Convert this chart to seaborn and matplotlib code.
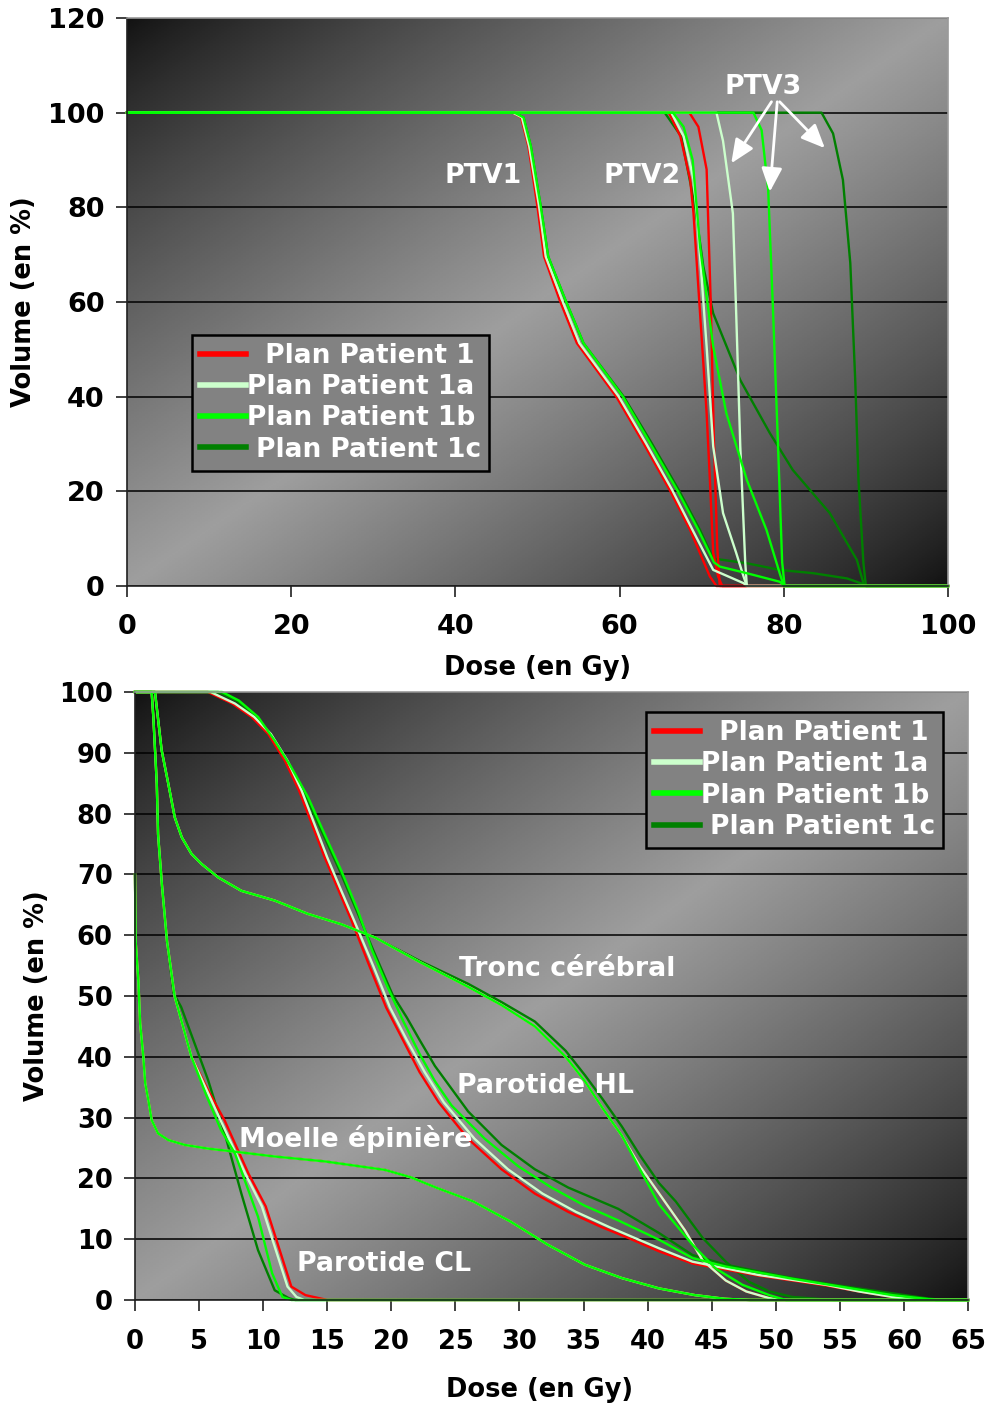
import numpy as np
import pandas as pd
import matplotlib
matplotlib.use("Agg")
import matplotlib.pyplot as plt
import seaborn as sns
from matplotlib.lines import Line2D

plt.rcParams['font.family'] = ['DejaVu Sans']
plt.rcParams['font.weight'] = 'bold'

# ---------------- data ----------------
plan_names = ["Plan Patient 1", "Plan Patient 1a", "Plan Patient 1b", "Plan Patient 1c"]
legend_labels = ["  Plan Patient 1", "Plan Patient 1a", "Plan Patient 1b", " Plan Patient 1c"]
plan_colors = ["#FF0000", "#CCFFCC", "#00FF00", "#008000"]

top_xticks = [0, 20, 40, 60, 80, 100]
top_yticks = [0, 20, 40, 60, 80, 100, 120]
bot_xticks = [0, 5, 10, 15, 20, 25, 30, 35, 40, 45, 50, 55, 60, 65]
bot_yticks = [0, 10, 20, 30, 40, 50, 60, 70, 80, 90, 100]

# --- top chart: PTV1 ---
ptv1_p1_dose = [0, 47.0, 48.0, 48.9, 50.0, 50.8, 52.7, 54.8, 59.6, 62.9, 66.1, 68.6, 71.0, 71.8, 100]
ptv1_p1_vol = [100, 100, 99, 92.8, 80.1, 69.6, 60.4, 51.3, 40.0, 30.2, 20.3, 11.8, 2.0, 0, 0]
ptv1_p1a_dose = [0, 47.0, 48.1, 49.0, 50.2, 51.0, 53.0, 55.1, 59.9, 63.2, 66.4, 68.9, 71.4, 75.1, 75.5, 100]
ptv1_p1a_vol = [100, 100, 99, 92.8, 80.1, 69.6, 60.4, 51.3, 40.0, 30.2, 20.3, 11.8, 3.4, 0.6, 0, 0]
ptv1_p1b_dose = [0, 47.2, 48.3, 49.2, 50.4, 51.3, 53.4, 55.6, 60.4, 63.7, 67.0, 69.6, 71.5, 72.2, 75.5, 79.5, 80.1, 100]
ptv1_p1b_vol = [100, 100, 99, 92.8, 80.1, 69.6, 60.4, 51.3, 40.0, 30.2, 20.3, 11.8, 5.0, 4.1, 2.7, 0.9, 0, 0]
ptv1_p1c_dose = [0, 47.2, 48.3, 49.2, 50.4, 51.3, 53.4, 55.6, 60.5, 63.9, 67.2, 69.8, 71.4, 75.5, 79.5, 83.6, 87.7, 89.5, 90.0, 100]
ptv1_p1c_vol = [100, 100, 99, 92.8, 80.1, 69.6, 60.4, 51.3, 40.0, 30.2, 20.3, 11.8, 5.8, 4.8, 3.4, 2.7, 1.6, 0.5, 0, 0]

# --- top chart: PTV2 ---
ptv2_p1_dose = [0, 66.0, 67.4, 68.6, 69.0, 69.8, 70.6, 71.0, 71.4, 72.0, 72.5, 100]
ptv2_p1_vol = [100, 100, 95, 85.8, 78.8, 57.6, 36.5, 22.4, 7, 2, 0, 0]
ptv2_p1a_dose = [0, 66.3, 67.8, 69.0, 69.4, 70.0, 70.6, 71.4, 72.6, 74.2, 75.1, 75.5, 100]
ptv2_p1a_vol = [100, 100, 95, 86, 78.7, 65, 50.6, 29.5, 15.4, 7, 2, 0, 0]
ptv2_p1b_dose = [0, 66.5, 67.8, 68.9, 69.8, 71.4, 73.0, 75.5, 77.9, 79.5, 80.0, 100]
ptv2_p1b_vol = [100, 100, 97, 90, 71.7, 50.6, 36.5, 22.4, 11.8, 2.7, 0, 0]
ptv2_p1c_dose = [0, 65.5, 67.5, 69.2, 70.2, 71.4, 74.7, 78.3, 81.1, 85.6, 88.9, 89.7, 90.0, 100]
ptv2_p1c_vol = [100, 100, 95, 80, 67.5, 57.6, 43.5, 32.3, 24.5, 15.4, 5.5, 0.6, 0, 0]

# --- top chart: PTV3 ---
ptv3_p1_dose = [0, 68.5, 69.6, 70.6, 71.1, 71.5, 71.9, 72.2, 100]
ptv3_p1_vol = [100, 100, 97, 88, 60, 30, 8, 0, 0]
ptv3_p1a_dose = [0, 71.8, 72.6, 73.8, 74.2, 74.7, 75.3, 75.5, 100]
ptv3_p1a_vol = [100, 100, 94, 78.7, 57.6, 29.5, 5, 0, 0]
ptv3_p1b_dose = [0, 76.3, 77.3, 78.1, 78.7, 79.3, 79.8, 80.1, 100]
ptv3_p1b_vol = [100, 100, 96.3, 83.7, 57.6, 29.5, 5, 0, 0]
ptv3_p1c_dose = [0, 84.6, 86.0, 87.2, 88.1, 88.7, 89.1, 89.7, 90.0, 100]
ptv3_p1c_vol = [100, 100, 95.6, 85.8, 68.2, 43.5, 22.4, 4.8, 0, 0]

# --- bottom chart: Tronc cérébral ---
tronc_dose = [0, 1.2, 1.56, 2.08, 2.6, 3.1, 3.65, 4.4, 5.2, 6.5, 8.3, 10.9, 13.5, 16.1, 18.75, 22.2, 26.0,
              28.6, 31.2, 33.6, 35.1, 36.5, 38.0, 39.4, 40.9, 42.9, 44.3, 46.1, 47.7, 49.5, 50.3, 65]
tronc_vol = [100, 100, 100, 90.4, 84.9, 79.4, 76.1, 73.4, 71.7, 69.5, 67.3, 65.7, 63.5, 61.8, 59.6, 55.6, 51.5,
             48.5, 45.0, 40.0, 36.0, 31.5, 27.0, 22.0, 17.5, 11.5, 6.5, 3.2, 1.4, 0.3, 0, 0]
tronc_p1b_dose = [0, 1.2, 1.56, 2.08, 2.6, 3.1, 3.65, 4.4, 5.2, 6.5, 8.3, 10.9, 13.5, 16.1, 18.75, 22.2, 26.0,
                  28.6, 31.2, 33.6, 35.1, 36.5, 38.0, 39.4, 40.9, 43.5, 45.3, 47.4, 49.5, 50.8, 65]
tronc_p1b_vol = [100, 100, 100, 90.4, 84.9, 79.4, 76.1, 73.4, 71.7, 69.5, 67.3, 65.7, 63.5, 61.8, 59.6, 55.6, 51.5,
                 48.5, 45.0, 40.0, 36.0, 31.5, 27.0, 21.5, 15.7, 9.1, 5.2, 2.5, 0.8, 0, 0]
tronc_p1c_dose = [0, 1.2, 1.56, 2.08, 2.6, 3.1, 3.65, 4.4, 5.2, 6.5, 8.3, 10.9, 13.5, 16.1, 18.75, 22.2, 26.0,
                  28.6, 31.2, 33.6, 35.1, 36.5, 38.0, 39.4, 40.9, 42.2, 44.3, 46.1, 47.9, 49.5, 51.3, 54.5, 65]
tronc_p1c_vol = [100, 100, 100, 90.4, 84.9, 79.4, 76.1, 73.4, 71.7, 69.5, 67.3, 65.7, 63.5, 61.8, 59.6, 55.8, 52.0,
                 49.0, 45.8, 41.0, 37.0, 33.0, 28.5, 23.8, 19.2, 16.2, 10.2, 6.3, 3.0, 1.4, 0.5, 0, 0]

# --- bottom chart: Parotide HL ---
hl_p1_dose = [0, 5.7, 7.6, 9.1, 10.4, 11.7, 12.8, 13.8, 14.8, 15.9, 16.9, 18.3, 19.6, 20.9, 22.2, 23.7, 26.0,
              28.6, 31.2, 33.8, 36.4, 38.5, 40.9, 43.5, 46.1, 48.7, 51.3, 53.9, 56.5, 59.1, 61.0, 65]
hl_p1_vol = [100, 100, 98.1, 95.9, 93.1, 88.7, 83.8, 78.3, 72.8, 67.3, 62.4, 54.9, 48.1, 42.8, 37.5, 32.5, 26.5,
             21.5, 17.5, 14.5, 12.0, 10.2, 8.0, 6.0, 5.0, 4.0, 3.2, 2.4, 1.4, 0.5, 0, 0]
hl_p1a_dose = [0, 5.9, 7.8, 9.3, 10.6, 11.9, 13.0, 14.0, 15.0, 16.1, 17.1, 18.6, 19.9, 21.2, 22.6, 24.1, 26.5,
               29.1, 31.8, 34.4, 37.0, 39.0, 40.9, 43.5, 46.1, 48.7, 51.3, 53.9, 56.5, 59.1, 61.0, 65]
hl_p1a_vol = [100, 100, 98.1, 95.9, 93.1, 88.7, 83.8, 78.3, 72.8, 67.3, 62.4, 54.9, 48.1, 42.8, 37.5, 32.5, 26.5,
              21.5, 17.5, 14.5, 12.0, 10.2, 8.5, 6.3, 5.2, 4.1, 3.3, 2.5, 1.4, 0.5, 0, 0]
hl_p1b_dose = [0, 6.8, 8.1, 9.6, 10.9, 12.2, 13.5, 14.8, 16.1, 17.4, 18.5, 19.6, 20.9, 22.2, 23.4, 24.7, 27.3,
               29.9, 32.5, 35.1, 37.7, 40.9, 43.5, 46.1, 48.7, 51.3, 53.9, 56.5, 59.1, 62.5, 65]
hl_p1b_vol = [100, 100, 98.6, 95.9, 92.0, 87.6, 82.7, 76.6, 70.6, 64.0, 57.5, 52.0, 46.0, 40.5, 36.0, 32.0, 26.5,
              22.0, 18.5, 15.5, 13.1, 9.9, 6.9, 5.5, 4.5, 3.5, 2.6, 1.7, 0.8, 0, 0]
hl_p1c_dose = [0, 6.5, 8.0, 9.5, 10.8, 12.1, 13.4, 14.7, 16.0, 17.3, 18.6, 20.1, 21.2, 22.2, 23.4, 26.0, 28.6,
               31.2, 33.8, 37.7, 40.9, 43.5, 46.1, 48.7, 51.3, 53.9, 56.5, 59.1, 61.7, 63.0, 65]
hl_p1c_vol = [100, 100, 98.5, 95.8, 92.0, 87.5, 82.5, 76.5, 70.5, 64.0, 57.5, 50.2, 46.5, 42.8, 38.5, 31.0, 25.5,
              21.5, 18.5, 15.0, 11.0, 7.4, 5.8, 4.7, 3.6, 2.7, 1.9, 1.1, 0.3, 0, 0]

# --- bottom chart: Moelle épinière ---
moelle_dose = [0, 0.05, 0.13, 0.26, 0.4, 0.65, 0.8, 1.04, 1.3, 1.8, 2.6, 3.9, 5.7, 7.8, 10.9, 14.8, 19.5,
               21.5, 23.6, 26.4, 29.3, 32.2, 35.1, 38.0, 40.9, 43.7, 46.0, 48.0, 65]
moelle_vol = [70, 59, 56.5, 52.6, 45.5, 40.0, 35.6, 32.9, 29.6, 27.4, 26.3, 25.5, 24.9, 24.4, 23.6, 22.8, 21.4,
              20.2, 18.4, 16.2, 12.9, 9.1, 5.8, 3.6, 1.9, 0.8, 0.2, 0, 0]

# --- bottom chart: Parotide CL ---
cl_p1_dose = [0, 1.3, 1.43, 1.7, 1.8, 2.1, 2.5, 3.1, 4.4, 5.7, 7.0, 8.85, 10.2, 11.2, 12.2, 13.3, 14.8, 15.0, 65]
cl_p1_vol = [100, 100, 95.9, 84.9, 76.6, 68.3, 59.0, 49.9, 40.0, 34.5, 29.5, 20.8, 15.4, 8.8, 2.2, 0.8, 0.1, 0, 0]
cl_p1a_dose = [0, 1.3, 1.43, 1.7, 1.8, 2.1, 2.5, 3.1, 4.4, 5.6, 6.8, 8.6, 9.9, 10.9, 11.9, 12.6, 13.2, 65]
cl_p1a_vol = [100, 100, 95.9, 84.9, 76.6, 68.3, 59.0, 49.9, 40.0, 34.5, 29.0, 20.8, 15.4, 8.8, 2.2, 0.5, 0, 0]
cl_p1b_dose = [0, 1.3, 1.43, 1.7, 1.8, 2.1, 2.5, 3.1, 4.4, 5.5, 6.7, 7.8, 9.6, 10.7, 11.5, 12.2, 65]
cl_p1b_vol = [100, 100, 95.9, 84.9, 76.6, 68.3, 59.0, 49.9, 40.0, 34.0, 28.0, 24.1, 13.7, 4.4, 0.5, 0, 0]
cl_p1c_dose = [0, 1.3, 1.43, 1.7, 1.8, 2.1, 2.5, 3.0, 3.6, 5.7, 7.0, 8.3, 9.6, 10.9, 12.0, 12.5, 65]
cl_p1c_vol = [100, 100, 95.9, 84.9, 76.6, 68.3, 59.0, 50.5, 48.2, 36.2, 27.4, 17.5, 8.2, 1.6, 0.3, 0, 0]

top_curves = {
    0: [(ptv1_p1_dose, ptv1_p1_vol), (ptv2_p1_dose, ptv2_p1_vol), (ptv3_p1_dose, ptv3_p1_vol)],
    1: [(ptv1_p1a_dose, ptv1_p1a_vol), (ptv2_p1a_dose, ptv2_p1a_vol), (ptv3_p1a_dose, ptv3_p1a_vol)],
    2: [(ptv1_p1b_dose, ptv1_p1b_vol), (ptv2_p1b_dose, ptv2_p1b_vol), (ptv3_p1b_dose, ptv3_p1b_vol)],
    3: [(ptv1_p1c_dose, ptv1_p1c_vol), (ptv2_p1c_dose, ptv2_p1c_vol), (ptv3_p1c_dose, ptv3_p1c_vol)],
}
bot_curves = {
    0: [(tronc_dose, tronc_vol), (hl_p1_dose, hl_p1_vol), (moelle_dose, moelle_vol), (cl_p1_dose, cl_p1_vol)],
    1: [(tronc_dose, tronc_vol), (hl_p1a_dose, hl_p1a_vol), (moelle_dose, moelle_vol), (cl_p1a_dose, cl_p1a_vol)],
    2: [(tronc_p1b_dose, tronc_p1b_vol), (hl_p1b_dose, hl_p1b_vol), (moelle_dose, moelle_vol), (cl_p1b_dose, cl_p1b_vol)],
    3: [(tronc_p1c_dose, tronc_p1c_vol), (hl_p1c_dose, hl_p1c_vol), (moelle_dose, moelle_vol), (cl_p1c_dose, cl_p1c_vol)],
}
draw_order = [3, 0, 1, 2]

# ---------------- figure ----------------
fig = plt.figure(figsize=(9.89, 14.10), dpi=100)
ax1 = fig.add_axes([127 / 989, 1 - 586 / 1410, (948 - 127) / 989, (586 - 18) / 1410])
ax2 = fig.add_axes([135 / 989, 1 - 1300 / 1410, (968 - 135) / 989, (1300 - 692) / 1410])

# diagonal gradient background (style only)
n = 300
ii, jj = np.meshgrid(np.linspace(0, 1, n), np.linspace(0, 1, n))
t = (ii + jj) / 2.0
grad = 0.07 + (0.62 - 0.07) * (1 - np.abs(2 * t - 1)) ** 0.85

TICK_FS = 19.5
LAB_FS = 18.5
TXT_FS = 19.3
LEG_FS = 19


def style_axes(ax, xlim, ylim, xticks, yticks, tick_fs, xpad):
    ax.imshow(grad, cmap='gray', vmin=0, vmax=1, extent=[0, 1, 0, 1], transform=ax.transAxes,
              aspect='auto', zorder=-10, interpolation='bilinear')
    ax.set_xlim(*xlim)
    ax.set_ylim(*ylim)
    ax.set_xticks(xticks)
    ax.set_yticks(yticks)
    ax.yaxis.grid(True, color='black', lw=1.1)
    ax.xaxis.grid(False)
    ax.set_axisbelow(True)
    for s in ['top', 'right']:
        ax.spines[s].set_color('#9a9a9a')
        ax.spines[s].set_linewidth(1.2)
    for s in ['left', 'bottom']:
        ax.spines[s].set_color('#202020')
        ax.spines[s].set_linewidth(1.2)
    ax.tick_params(axis='both', direction='out', length=8, width=1.2, color='#202020',
                   labelsize=tick_fs)
    ax.tick_params(axis='x', pad=xpad)
    ax.tick_params(axis='y', pad=8)
    for lab in ax.get_xticklabels() + ax.get_yticklabels():
        lab.set_fontweight('bold')


def draw_curve(ax, dose, vol, color):
    df = pd.DataFrame({"dose": dose, "vol": vol})
    sns.lineplot(data=df, x="dose", y="vol", color=color, lw=1.7, sort=False,
                 estimator=None, ax=ax, clip_on=False)


for p in draw_order:
    for d, v in top_curves[p]:
        draw_curve(ax1, d, v, plan_colors[p])
for p in draw_order:
    for d, v in bot_curves[p]:
        draw_curve(ax2, d, v, plan_colors[p])

style_axes(ax1, (0, 100), (0, 120), top_xticks, top_yticks, TICK_FS, 12)
style_axes(ax2, (0, 65), (0, 100), bot_xticks, bot_yticks, 18.5, 13)

# axis labels
ax1.set_xlabel("Dose (en Gy)", fontsize=LAB_FS, fontweight='bold')
ax1.set_ylabel("Volume (en %)", fontsize=LAB_FS, fontweight='bold')
ax1.xaxis.set_label_coords(0.5, -0.144)
ax1.xaxis.label.set_va('center')
ax1.yaxis.set_label_coords(-0.1255, 0.5)
ax1.yaxis.label.set_va('center')
ax2.set_xlabel("Dose (en Gy)", fontsize=LAB_FS, fontweight='bold')
ax2.set_ylabel("Volume (en %)", fontsize=LAB_FS, fontweight='bold')
ax2.xaxis.set_label_coords(0.486, -0.148)
ax2.xaxis.label.set_va('center')
ax2.yaxis.set_label_coords(-0.1176, 0.5)
ax2.yaxis.label.set_va('center')

# annotations top
txt_kw = dict(color='white', fontsize=TXT_FS, fontweight='bold', ha='center', va='center')
ax1.text(43.4, 86.6, "PTV1", **txt_kw)
ax1.text(62.7, 86.6, "PTV2", **txt_kw)
ax1.text(77.5, 105.4, "PTV3", **txt_kw)
arrow_kw = dict(arrowstyle='-|>,head_length=0.8,head_width=0.35', color='white', lw=2,
                mutation_scale=18, shrinkA=0, shrinkB=0)
for (tx, ty), (hx, hy) in [((78.5, 102.3), (73.6, 89.3)), ((79.2, 102.3), (78.3, 83.3)),
                           ((79.5, 102.3), (85.0, 92.5))]:
    ax1.annotate("", xy=(hx, hy), xytext=(tx, ty), arrowprops=arrow_kw)

# annotations bottom
ax2.text(33.7, 54.4, "Tronc cérébral", **txt_kw)
ax2.text(32.0, 35.2, "Parotide HL", **txt_kw)
ax2.text(17.2, 26.5, "Moelle épinière", **txt_kw)
ax2.text(19.4, 5.9, "Parotide CL", **txt_kw)

# legends
handles = [Line2D([0], [0], color=c, lw=4) for c in plan_colors]


def add_legend(ax, anchor):
    leg = ax.legend(handles, legend_labels, loc='upper left', bbox_to_anchor=anchor,
                    borderaxespad=0, frameon=True, fancybox=False, handlelength=1.75,
                    handletextpad=0.05, labelspacing=0.2, borderpad=0.3,
                    prop={'size': LEG_FS, 'weight': 'bold'})
    fr = leg.get_frame()
    fr.set_facecolor('#828282')
    fr.set_alpha(1)
    fr.set_edgecolor('black')
    fr.set_linewidth(1.8)
    for tx in leg.get_texts():
        tx.set_color('white')
    return leg


add_legend(ax1, (0.079, 0.442))
add_legend(ax2, (0.613, 0.967))

fig.savefig("out.png", dpi=100, facecolor='white')
